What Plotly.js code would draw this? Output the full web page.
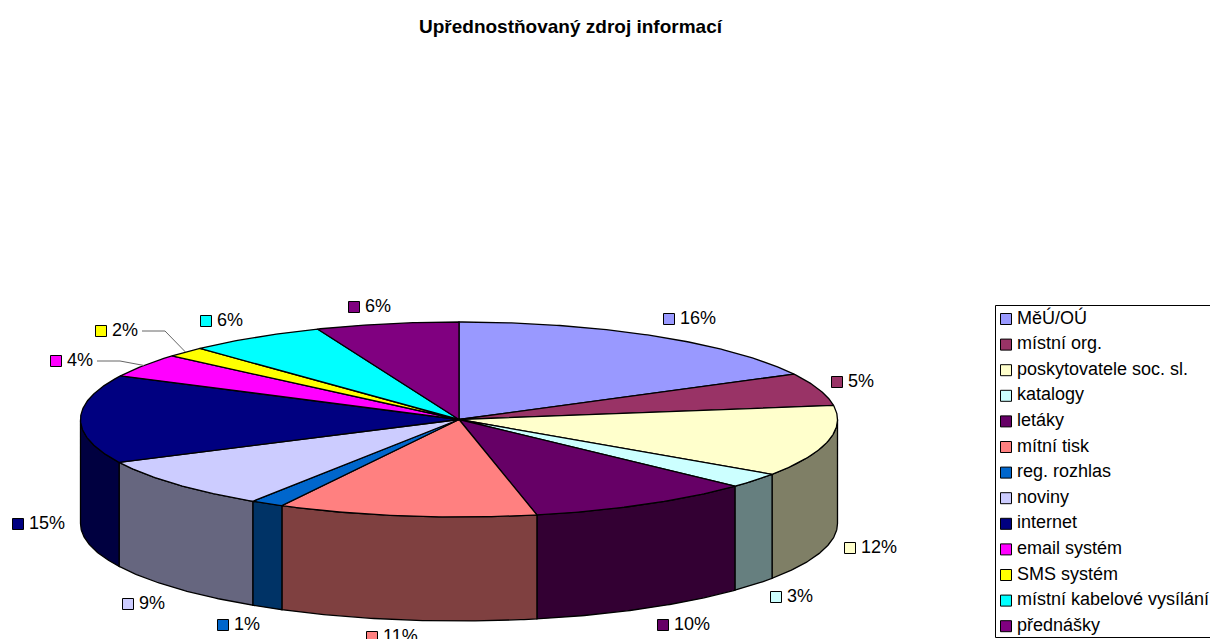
<!DOCTYPE html>
<html>
<head>
<meta charset="utf-8">
<script src="https://cdn.plot.ly/plotly-3.0.1.min.js"></script>
<style>html,body{margin:0;padding:0;background:#fff;overflow:hidden}#c{width:1210px;height:639px}</style>
</head>
<body>
<div id="c"></div>
<script>
// DATA
var categories = ["MěÚ/OÚ","místní org.","poskytovatele soc. sl.","katalogy","letáky","mítní tisk","reg. rozhlas","noviny","internet","email systém","SMS systém","místní kabelové vysílání","přednášky"];
var shares = [17.3,5.4,11.8,2.5,9.7,11.05,1.42,8.58,14.65,3.9,1.7,5.9,6.1];   // slice size
var percentLabels = ["16%","5%","12%","3%","10%","11%","1%","9%","15%","4%","2%","6%","6%"];
var colors = ["#9999FF","#993366","#FFFFCC","#CCFFFF","#660066","#FF8080","#0066CC","#CCCCFF","#000080","#FF00FF","#FFFF00","#00FFFF","#800080"];

// LAYOUT (page pixels, used as the axis units)
var C = {x:459, y:419.5, rx:378.5, ry:97.5, depth:104};
var labelAnchors = [[669,319],[837,382],[850,548],[776,597],[663,625],[372,637],[223,625],[128,604],[18,524],[56,361],[101,331],[206,321],[354,307]];
var leaders = {9:[[97,361],[120,361]],10:[[142,331],[165,331]]};
var legendBox = {x0:995.5, x1:1215, y0:305.5, y1:637.5, keyX:1006, firstY:319, step:25.6};
var textGap = 11;
var FONT = "Liberation Sans, Arial, sans-serif";

function pt(deg, dy){
  var a = deg*Math.PI/180;
  return [C.x + C.rx*Math.sin(a), C.y - C.ry*Math.cos(a) + (dy||0)];
}
function arc(a, b, dy){
  var out = [], n = Math.max(2, Math.ceil(Math.abs(b-a)*2));
  for (var i=0;i<=n;i++) out.push(pt(a+(b-a)*i/n, dy));
  return out;
}
function dark(hex){
  var n = parseInt(hex.slice(1),16);
  return "rgb("+((n>>16&255)>>1)+","+((n>>8&255)>>1)+","+((n&255)>>1)+")";
}
function poly(points, fill, name){
  return {type:"scatter", mode:"lines", x:points.map(function(p){return p[0];}), y:points.map(function(p){return p[1];}),
    fill:"toself", fillcolor:fill, line:{color:"#000",width:1.3}, name:name, hoverinfo:"skip", showlegend:false};
}
function keys(xs, ys){
  return {type:"scatter", mode:"markers", x:xs, y:ys,
    marker:{symbol:"square",size:11,color:colors,line:{color:"#000",width:1}},
    hoverinfo:"skip", showlegend:false, cliponaxis:false};
}
function texts(xs, ys, labels){
  return {type:"scatter", mode:"text", x:xs.map(function(v){return v+textGap;}), y:ys, text:labels,
    textposition:"middle right", textfont:{family:FONT,size:18,color:"#000"},
    hoverinfo:"skip", showlegend:false, cliponaxis:false};
}

var total = shares.reduce(function(s,v){return s+v;},0);
var walls = [], tops = [], mids = [], acc = 0;
shares.forEach(function(v,i){
  var a = acc/total*360, b = (acc+v)/total*360;
  acc += v;
  mids.push((a+b)/2);
  var wa = Math.max(a,90), wb = Math.min(b,270);
  if (wb > wa) walls.push(poly(arc(wa,wb,0).concat(arc(wb,wa,C.depth)).concat([pt(wa,0)]), dark(colors[i]), categories[i]+" (side)"));
  tops.push(poly([[C.x,C.y]].concat(arc(a,b,0)).concat([[C.x,C.y]]), colors[i], categories[i]));
});

var leaderTraces = Object.keys(leaders).map(function(k){
  var p = leaders[k].concat([pt(mids[k],0)]);
  return {type:"scatter", mode:"lines", x:p.map(function(q){return q[0];}), y:p.map(function(q){return q[1];}),
    line:{color:"#666",width:1}, hoverinfo:"skip", showlegend:false};
});

var lx = labelAnchors.map(function(p){return p[0];}), ly = labelAnchors.map(function(p){return p[1];});
var gx = categories.map(function(){return legendBox.keyX;}), gy = categories.map(function(_,i){return legendBox.firstY+i*legendBox.step;});

var axis = {visible:false, showgrid:false, zeroline:false, fixedrange:true};
var layout = {
  width:1210, height:639, margin:{l:0,r:0,t:0,b:0}, paper_bgcolor:"#fff", plot_bgcolor:"#fff", showlegend:false,
  hovermode:false,
  title:{text:"Upřednostňovaný zdroj informací", font:{family:FONT,size:19,color:"#000",weight:700},
         x:570.5/1210, xanchor:"center", xref:"paper", y:1-26/639, yanchor:"middle", yref:"container"},
  xaxis:Object.assign({range:[0,1210]},axis),
  yaxis:Object.assign({range:[639,0]},axis),
  shapes:[{type:"rect",xref:"x",yref:"y",x0:legendBox.x0,x1:legendBox.x1,y0:legendBox.y0,y1:legendBox.y1,line:{color:"#000",width:1},layer:"below"}]
};
Plotly.newPlot("c", walls.concat(tops, leaderTraces, [keys(lx,ly), texts(lx,ly,percentLabels), keys(gx,gy), texts(gx,gy,categories)]), layout, {displayModeBar:false, staticPlot:true});
</script>
</body>
</html>
